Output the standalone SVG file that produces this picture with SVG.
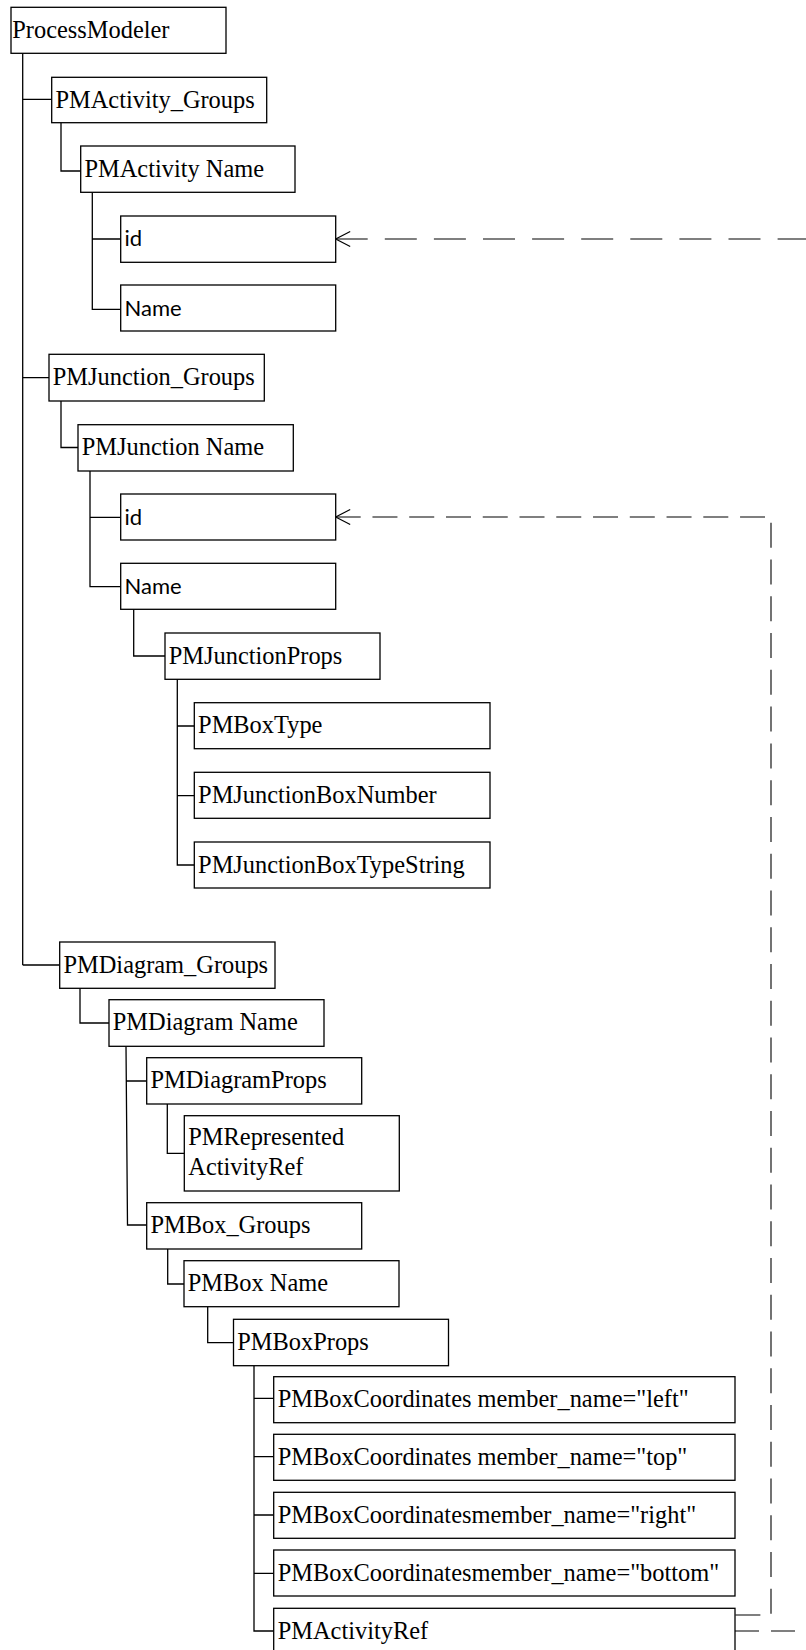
<svg xmlns="http://www.w3.org/2000/svg" width="806" height="1650" viewBox="0 0 806 1650">
<style>
.box{fill:#fff;stroke:#000;stroke-width:1.3}
.t{font-family:"Liberation Serif","Times New Roman",serif;font-size:24.4px;fill:#000}
.s{font-family:Lato,"Liberation Sans",Arial,sans-serif;font-size:22px;fill:#000}
.tree{fill:none;stroke:#000;stroke-width:1.3}
.dash{fill:none;stroke:#000;stroke-width:1.1}
</style>
<defs>
<marker id="open" markerUnits="userSpaceOnUse" markerWidth="18" markerHeight="18" viewBox="0 0 18 18" refX="16" refY="9" orient="auto-start-reverse">
<path d="M1.5,1.5 L16,9 L1.5,16.5" fill="none" stroke="#000" stroke-width="1.2"/>
</marker>
</defs>
<rect width="806" height="1650" fill="#fff"/>
<g id="connectors">
<path class="tree" d="M22.7,53 V965 M22.7,99.3 H51.7 M22.7,377.7 H49 M22.7,965 H59.7"/>
<path class="tree" d="M61,122.7 V171 H80.7"/>
<path class="tree" d="M92.3,192.3 V309.3 H120.7 M92.3,239 H120.7"/>
<path class="tree" d="M61,401 V447.5 H78"/>
<path class="tree" d="M90,471 V586.7 H120.7 M90,517.3 H120.7"/>
<path class="tree" d="M133.7,609.3 V656 H165"/>
<path class="tree" d="M177.3,679.3 V865 H194.3 M177.3,726 H194.3 M177.3,795.7 H194.3"/>
<path class="tree" d="M80,988.3 V1023 H109"/>
<path class="tree" d="M126,1046.3 L127.5,1225 H146.7 M126.3,1081 H146.7"/>
<path class="tree" d="M167.3,1104 V1153.3 H184.3"/>
<path class="tree" d="M167.7,1249 V1284 H184"/>
<path class="tree" d="M207.7,1306.7 V1342.7 H233.5"/>
<path class="tree" d="M254,1365.7 V1631 H273.7 M254,1398.3 H273.7 M254,1456.7 H273.7 M254,1515 H273.7 M254,1573.3 H273.7"/>
<path class="dash" d="M335.7,239 H812" stroke-dasharray="32 17.1" marker-start="url(#open)"/>
<path class="dash" d="M335.7,517 H771 V1615 H735" stroke-dasharray="25 11.76" marker-start="url(#open)"/>
<path class="dash" d="M735,1631 H812" stroke-dasharray="24 12"/>
</g>
<g id="n-processmodeler"><rect class="box" x="11" y="7.3" width="215" height="46"/><text class="t" x="12.3" y="37.5">ProcessModeler</text></g>
<g id="n-pmactivity-groups"><rect class="box" x="51.7" y="77.3" width="215" height="45.4"/><text class="t" x="55.5" y="107.5">PMActivity_Groups</text></g>
<g id="n-pmactivity-name"><rect class="box" x="80.7" y="146" width="214.3" height="46.3"/><text class="t" x="84.5" y="176.5">PMActivity Name</text></g>
<g id="n-activity-id"><rect class="box" x="120.7" y="216" width="215" height="46.3"/><text class="s" x="124.5" y="246">id</text></g>
<g id="n-activity-name"><rect class="box" x="120.7" y="285" width="215" height="46"/><text class="s" x="124.5" y="315.5">Name</text></g>
<g id="n-pmjunction-groups"><rect class="box" x="49" y="354.3" width="215.3" height="46.7"/><text class="t" x="52.8" y="385">PMJunction_Groups</text></g>
<g id="n-pmjunction-name"><rect class="box" x="78" y="424.7" width="215.3" height="46.3"/><text class="t" x="81.8" y="455.2">PMJunction Name</text></g>
<g id="n-junction-id"><rect class="box" x="120.7" y="494" width="215" height="46"/><text class="s" x="124.5" y="524.5">id</text></g>
<g id="n-junction-name"><rect class="box" x="120.7" y="563.3" width="215" height="46"/><text class="s" x="124.5" y="593.8">Name</text></g>
<g id="n-pmjunctionprops"><rect class="box" x="165" y="633" width="215" height="46.3"/><text class="t" x="168.8" y="663.5">PMJunctionProps</text></g>
<g id="n-pmboxtype"><rect class="box" x="194.3" y="702.7" width="295.7" height="46"/><text class="t" x="198.1" y="733.2">PMBoxType</text></g>
<g id="n-pmjunctionboxnumber"><rect class="box" x="194.3" y="772.3" width="295.7" height="46"/><text class="t" x="198.1" y="802.8">PMJunctionBoxNumber</text></g>
<g id="n-pmjunctionboxtypestring"><rect class="box" x="194.3" y="842" width="295.7" height="46"/><text class="t" x="198.1" y="872.5">PMJunctionBoxTypeString</text></g>
<g id="n-pmdiagram-groups"><rect class="box" x="59.7" y="942" width="215.3" height="46.3"/><text class="t" x="63.5" y="972.5">PMDiagram_Groups</text></g>
<g id="n-pmdiagram-name"><rect class="box" x="109" y="999.7" width="215" height="46.6"/><text class="t" x="112.8" y="1030.2">PMDiagram Name</text></g>
<g id="n-pmdiagramprops"><rect class="box" x="146.7" y="1057.7" width="215" height="46.3"/><text class="t" x="150.5" y="1088.2">PMDiagramProps</text></g>
<g id="n-pmrepresentedactivityref"><rect class="box" x="184.3" y="1115.7" width="215" height="75.3"/><text class="t" x="188.3" y="1145">PMRepresented</text><text class="t" x="188.3" y="1175">ActivityRef</text></g>
<g id="n-pmbox-groups"><rect class="box" x="146.7" y="1202.7" width="215" height="46.3"/><text class="t" x="150.5" y="1233.2">PMBox_Groups</text></g>
<g id="n-pmbox-name"><rect class="box" x="184" y="1260.7" width="215" height="46"/><text class="t" x="187.8" y="1291.2">PMBox Name</text></g>
<g id="n-pmboxprops"><rect class="box" x="233.5" y="1319.3" width="215" height="46.4"/><text class="t" x="237.3" y="1349.8">PMBoxProps</text></g>
<g id="n-coord-left"><rect class="box" x="273.7" y="1376.7" width="461.3" height="46"/><text class="t" x="277.7" y="1407.2">PMBoxCoordinates member_name="left"</text></g>
<g id="n-coord-top"><rect class="box" x="273.7" y="1434.3" width="461.3" height="46"/><text class="t" x="277.7" y="1464.8">PMBoxCoordinates member_name="top"</text></g>
<g id="n-coord-right"><rect class="box" x="273.7" y="1492.3" width="461.3" height="46"/><text class="t" x="277.7" y="1522.8">PMBoxCoordinatesmember_name="right"</text></g>
<g id="n-coord-bottom"><rect class="box" x="273.7" y="1550" width="461.3" height="46"/><text class="t" x="277.7" y="1580.5">PMBoxCoordinatesmember_name="bottom"</text></g>
<g id="n-pmactivityref"><rect class="box" x="273.7" y="1608.3" width="461.3" height="46"/><text class="t" x="277.7" y="1638.8">PMActivityRef</text></g>
</svg>
